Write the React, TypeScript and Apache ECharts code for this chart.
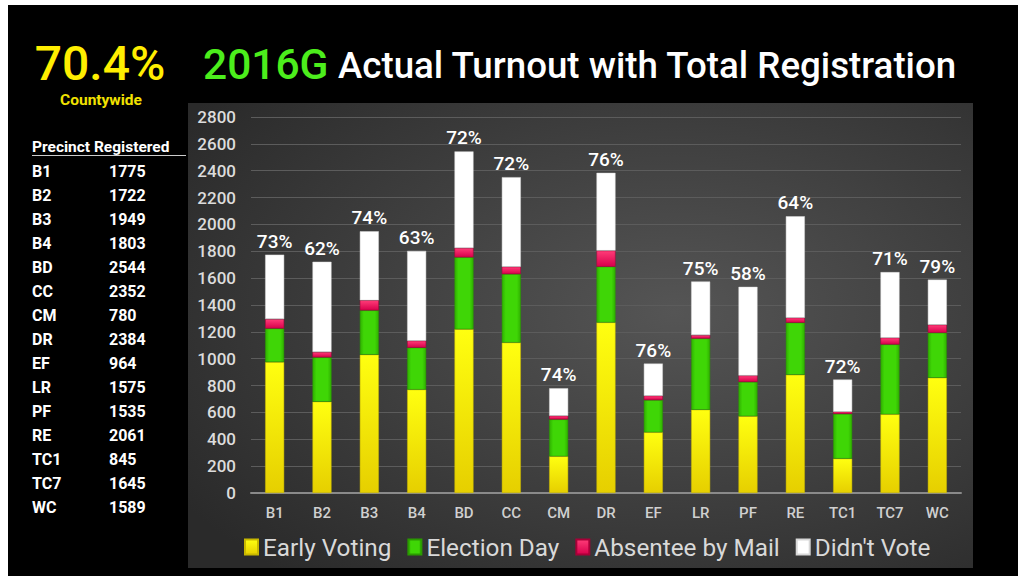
import React, { useEffect, useRef } from "react";
import * as echarts from "echarts";

const precincts = ["B1", "B2", "B3", "B4", "BD", "CC", "CM", "DR", "EF", "LR", "PF", "RE", "TC1", "TC7", "WC"];
const registered = [1775, 1722, 1949, 1803, 2544, 2352, 780, 2384, 964, 1575, 1535, 2061, 845, 1645, 1589];
const earlyVoting = [975, 680, 1030, 770, 1220, 1120, 273, 1270, 452, 620, 572, 880, 256, 586, 858];
const electionDay = [250, 330, 330, 312, 535, 510, 275, 415, 240, 530, 255, 388, 333, 520, 335];
const absentee = [70, 40, 75, 52, 70, 55, 27, 120, 32, 26, 48, 37, 16, 50, 60];
const didntVote = [480, 672, 514, 669, 719, 667, 205, 579, 240, 399, 660, 756, 240, 489, 336];
const turnoutLabels = ["73%", "62%", "74%", "63%", "72%", "72%", "74%", "76%", "76%", "75%", "58%", "64%", "72%", "71%", "79%"];
const countywide = "70.4%";
const yTicks = { min: 0, max: 2800, interval: 200 };

const FONT = "Roboto, 'Liberation Sans', sans-serif";

function vgrad(top: string, bottom: string) {
  return new echarts.graphic.LinearGradient(0, 0, 0, 1, [
    { offset: 0, color: top },
    { offset: 1, color: bottom },
  ]);
}
function hgrad(edge: string, mid: string) {
  return new echarts.graphic.LinearGradient(0, 0, 1, 0, [
    { offset: 0, color: edge },
    { offset: 0.2, color: mid },
    { offset: 0.8, color: mid },
    { offset: 1, color: edge },
  ]);
}

export default function App() {
  const ref = useRef<HTMLDivElement>(null);
  useEffect(() => {
    if (!ref.current) return;
    const chart = echarts.init(ref.current, null, { renderer: "svg" });

    const tableFont = `bold 16px ${FONT}`;
    const tableGraphics: any[] = [];
    precincts.forEach((p, i) => {
      const y = 171 + 24 * i;
      tableGraphics.push({
        type: "text",
        x: 32,
        y,
        style: { text: p, fill: "#ffffff", font: tableFont, textVerticalAlign: "middle" },
      });
      tableGraphics.push({
        type: "text",
        x: 109,
        y,
        style: { text: String(registered[i]), fill: "#ffffff", font: tableFont, textVerticalAlign: "middle" },
      });
    });

    const barBase = {
      type: "bar",
      stack: "total",
      barWidth: 19,
    };

    chart.setOption({
      animation: false,
      backgroundColor: "#ffffff",
      graphic: [
        { type: "rect", z: -20, shape: { x: 8, y: 5, width: 1010, height: 571 }, style: { fill: "#000000" } },
        {
          type: "rect",
          z: -19,
          shape: { x: 188, y: 103, width: 785, height: 465 },
          style: {
            fill: new echarts.graphic.RadialGradient(0.62, 0.45, 0.75, [
              { offset: 0, color: "#555555" },
              { offset: 1, color: "#2a2a2a" },
            ]),
          },
        },
        {
          type: "text",
          x: 100,
          y: 63,
          style: { text: countywide, fill: "#FFEE00", font: `500 48px ${FONT}`, textAlign: "center", textVerticalAlign: "middle" },
        },
        {
          type: "text",
          x: 101,
          y: 100,
          style: { text: "Countywide", fill: "#F2E200", font: `bold 15.5px ${FONT}`, textAlign: "center", textVerticalAlign: "middle" },
        },
        {
          type: "text",
          x: 203,
          y: 64,
          style: { text: "2016G", fill: "#4CEE1C", font: `500 42.5px ${FONT}`, textVerticalAlign: "middle" },
        },
        {
          type: "text",
          x: 338,
          y: 65,
          style: { text: "Actual Turnout with Total Registration", fill: "#ffffff", font: `500 36.7px ${FONT}`, textVerticalAlign: "middle" },
        },
        {
          type: "text",
          x: 32,
          y: 147,
          style: { text: "Precinct Registered", fill: "#ffffff", font: `bold 15.5px ${FONT}`, textVerticalAlign: "middle" },
        },
        { type: "line", shape: { x1: 32, y1: 155.5, x2: 186, y2: 155.5 }, style: { stroke: "#cccccc", lineWidth: 1 } },
        ...tableGraphics,
      ],
      grid: { left: 251, right: 57, top: 117, bottom: 83, containLabel: false },
      legend: {
        left: 239,
        top: 530,
        icon: "rect",
        itemWidth: 13,
        itemHeight: 15,
        itemGap: 16,
        textStyle: { color: "#d9d9d9", fontSize: 24.3, fontFamily: FONT, padding: [0, 0, 0, 0] },
        data: ["Early Voting", "Election Day", "Absentee by Mail", "Didn't Vote"],
      },
      xAxis: {
        type: "category",
        data: precincts,
        axisLine: { show: true, lineStyle: { color: "#8a8a8a", width: 2 } },
        axisTick: { show: false },
        axisLabel: { color: "#d0d0d0", fontSize: 15, fontFamily: FONT, fontWeight: 500, margin: 12 },
      },
      yAxis: {
        type: "value",
        min: yTicks.min,
        max: yTicks.max,
        interval: yTicks.interval,
        axisLine: { show: false },
        axisTick: { show: false },
        splitLine: { lineStyle: { color: "#5c5c5c", width: 1 } },
        axisLabel: {
          color: "#dcdcdc",
          fontSize: 17,
          fontFamily: FONT,
          fontWeight: 500,
          margin: 15,
          formatter: (v: number) => String(v),
        },
      },
      series: [
        {
          ...barBase,
          name: "Early Voting",
          data: earlyVoting,
          itemStyle: { color: vgrad("#ffff10", "#e6cf00"), borderColor: "#c8b800", borderWidth: 0.5 },
        },
        {
          ...barBase,
          name: "Election Day",
          data: electionDay,
          itemStyle: { color: hgrad("#2fb000", "#3fd606"), borderColor: "#2a9a00", borderWidth: 0.5 },
        },
        {
          ...barBase,
          name: "Absentee by Mail",
          data: absentee,
          itemStyle: { color: vgrad("#ff3c78", "#d8004c"), borderColor: "#a80038", borderWidth: 0.5 },
        },
        {
          ...barBase,
          name: "Didn't Vote",
          data: didntVote,
          itemStyle: { color: "#ffffff", borderColor: "#d8d8d8", borderWidth: 0.5 },
          label: {
            show: true,
            position: "top",
            distance: 4,
            color: "#ffffff",
            fontSize: 19,
            fontFamily: FONT,
            fontWeight: 500,
            formatter: (p: any) => turnoutLabels[p.dataIndex],
          },
        },
      ],
    });
    return () => chart.dispose();
  }, []);

  return (
    <div
      ref={ref}
      style={{ position: "absolute", left: 0, top: 0, width: 1018, height: 576 }}
    />
  );
}
